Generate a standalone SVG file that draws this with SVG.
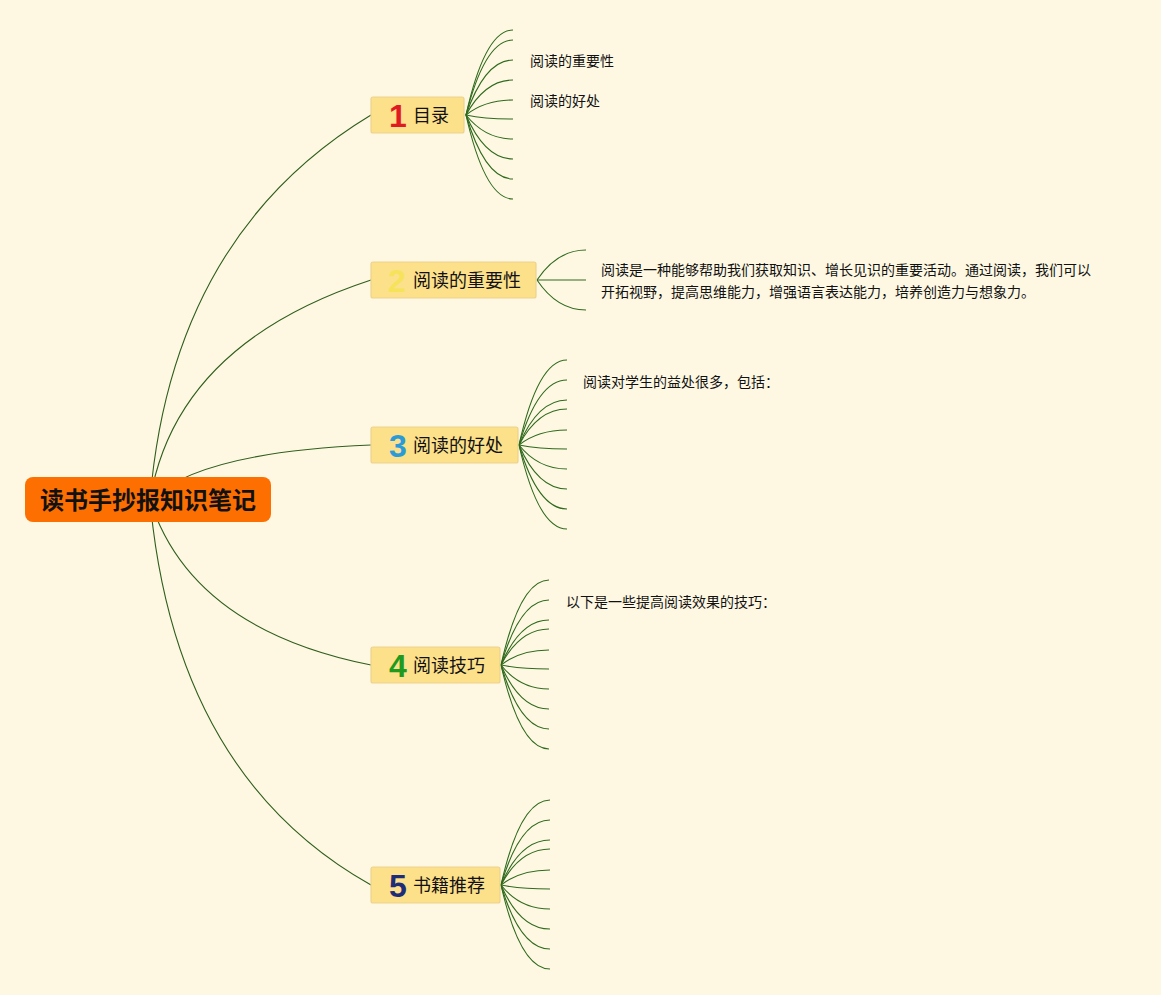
<svg xmlns="http://www.w3.org/2000/svg" width="1161" height="995" viewBox="0 0 1161 995">
<style>
.bg{fill:#fef8e3}
.main{fill:none;stroke:#2f5e1c;stroke-width:1.1}
.sub{fill:none;stroke:#2f6a1d;stroke-width:1.1}
.node rect{fill:#fde08a;stroke:#ecd28e;stroke-width:1.2}
.lbl{font-family:"Noto Sans CJK SC","Noto Sans",sans-serif;font-size:18px;fill:#111}
.num{font-family:"Liberation Sans",Arial,sans-serif;font-size:32px;font-weight:bold;text-anchor:middle}
.txt{font-family:"Noto Sans CJK SC","Noto Sans",sans-serif;font-size:14px;fill:#111}
.root rect{fill:#fe6f02}
.root text{font-family:"Noto Sans CJK SC","Noto Sans",sans-serif;font-size:24px;font-weight:bold;fill:#111;text-anchor:middle}
</style>
<rect class="bg" x="0" y="0" width="1161" height="995"/>
<g id="connectors">
  <path class="main" d="M150,500 Q172,235 371,115"/>
  <path class="main" d="M150,500 Q176,344 371,280"/>
  <path class="main" d="M150,500 Q200,452 371,445"/>
  <path class="main" d="M150,500 Q191,629 371,665"/>
  <path class="main" d="M150,500 Q175,775 371,885"/>
  <!-- node 1 branches -->
  <path class="sub" d="M466,115 Q485,30 513,30"/>
  <path class="sub" d="M466,115 Q485,40 513,40"/>
  <path class="sub" d="M466,115 Q485,60 513,60"/>
  <path class="sub" d="M466,115 Q485,80 513,80"/>
  <path class="sub" d="M466,115 Q485,100 513,100"/>
  <path class="sub" d="M466,115 Q485,119 513,119"/>
  <path class="sub" d="M466,115 Q485,139 513,139"/>
  <path class="sub" d="M466,115 Q485,159 513,159"/>
  <path class="sub" d="M466,115 Q485,179 513,179"/>
  <path class="sub" d="M466,115 Q485,199 513,199"/>
  <!-- node 2 branches -->
  <path class="sub" d="M537,280 Q557,250 586,250"/>
  <path class="sub" d="M537,280 Q557,280 586,280"/>
  <path class="sub" d="M537,280 Q557,310 586,310"/>
  <!-- node 3 branches -->
  <path class="sub" d="M519,445 Q538,360 567,360"/>
  <path class="sub" d="M519,445 Q538,380 567,380"/>
  <path class="sub" d="M519,445 Q538,400 567,400"/>
  <path class="sub" d="M519,445 Q538,409 567,409"/>
  <path class="sub" d="M519,445 Q538,430 567,430"/>
  <path class="sub" d="M519,445 Q538,449 567,449"/>
  <path class="sub" d="M519,445 Q538,469 567,469"/>
  <path class="sub" d="M519,445 Q538,489 567,489"/>
  <path class="sub" d="M519,445 Q538,509 567,509"/>
  <path class="sub" d="M519,445 Q538,529 567,529"/>
  <!-- node 4 branches -->
  <path class="sub" d="M501,665 Q520,580 549,580"/>
  <path class="sub" d="M501,665 Q520,600 549,600"/>
  <path class="sub" d="M501,665 Q520,620 549,620"/>
  <path class="sub" d="M501,665 Q520,629 549,629"/>
  <path class="sub" d="M501,665 Q520,650 549,650"/>
  <path class="sub" d="M501,665 Q520,669 549,669"/>
  <path class="sub" d="M501,665 Q520,689 549,689"/>
  <path class="sub" d="M501,665 Q520,709 549,709"/>
  <path class="sub" d="M501,665 Q520,729 549,729"/>
  <path class="sub" d="M501,665 Q520,749 549,749"/>
  <!-- node 5 branches -->
  <path class="sub" d="M501,885 Q520,800 550,800"/>
  <path class="sub" d="M501,885 Q520,820 550,820"/>
  <path class="sub" d="M501,885 Q520,840 550,840"/>
  <path class="sub" d="M501,885 Q520,849 550,849"/>
  <path class="sub" d="M501,885 Q520,870 550,870"/>
  <path class="sub" d="M501,885 Q520,889 550,889"/>
  <path class="sub" d="M501,885 Q520,909 550,909"/>
  <path class="sub" d="M501,885 Q520,929 550,929"/>
  <path class="sub" d="M501,885 Q520,949 550,949"/>
  <path class="sub" d="M501,885 Q520,969 550,969"/>
</g>
<g id="root" class="root">
  <rect x="25" y="477" width="246" height="45" rx="8"/>
  <text x="148" y="508.5">读书手抄报知识笔记</text>
</g>
<g id="node1" class="node">
  <rect x="371" y="97" width="93" height="36" rx="2"/>
  <text class="num" x="398" y="126.5" fill="#e01a22">1</text>
  <text class="lbl" x="413" y="121.5">目录</text>
</g>
<g id="node2" class="node">
  <rect x="371" y="262" width="165" height="36" rx="2"/>
  <text class="num" x="397" y="291.5" fill="#f6e35a">2</text>
  <text class="lbl" x="413" y="286.5">阅读的重要性</text>
</g>
<g id="node3" class="node">
  <rect x="371" y="427" width="147" height="36" rx="2"/>
  <text class="num" x="398" y="456.5" fill="#2a9bd8">3</text>
  <text class="lbl" x="413" y="451.5">阅读的好处</text>
</g>
<g id="node4" class="node">
  <rect x="371" y="647" width="129" height="36" rx="2"/>
  <text class="num" x="398" y="676.5" fill="#1f9a1f">4</text>
  <text class="lbl" x="413" y="671.5">阅读技巧</text>
</g>
<g id="node5" class="node">
  <rect x="371" y="867" width="129" height="36" rx="2"/>
  <text class="num" x="398" y="896.5" fill="#1f2d78">5</text>
  <text class="lbl" x="413" y="891.5">书籍推荐</text>
</g>
<g id="leaf1a"><text class="txt" x="530" y="66">阅读的重要性</text></g>
<g id="leaf1b"><text class="txt" x="530" y="106">阅读的好处</text></g>
<g id="leaf2">
  <text class="txt" x="601" y="275">阅读是一种能够帮助我们获取知识、增长见识的重要活动。通过阅读，我们可以</text>
  <text class="txt" x="601" y="297">开拓视野，提高思维能力，增强语言表达能力，培养创造力与想象力。</text>
</g>
<g id="leaf3"><text class="txt" x="583" y="387">阅读对学生的益处很多，包括：</text></g>
<g id="leaf4"><text class="txt" x="566" y="607">以下是一些提高阅读效果的技巧：</text></g>
</svg>
